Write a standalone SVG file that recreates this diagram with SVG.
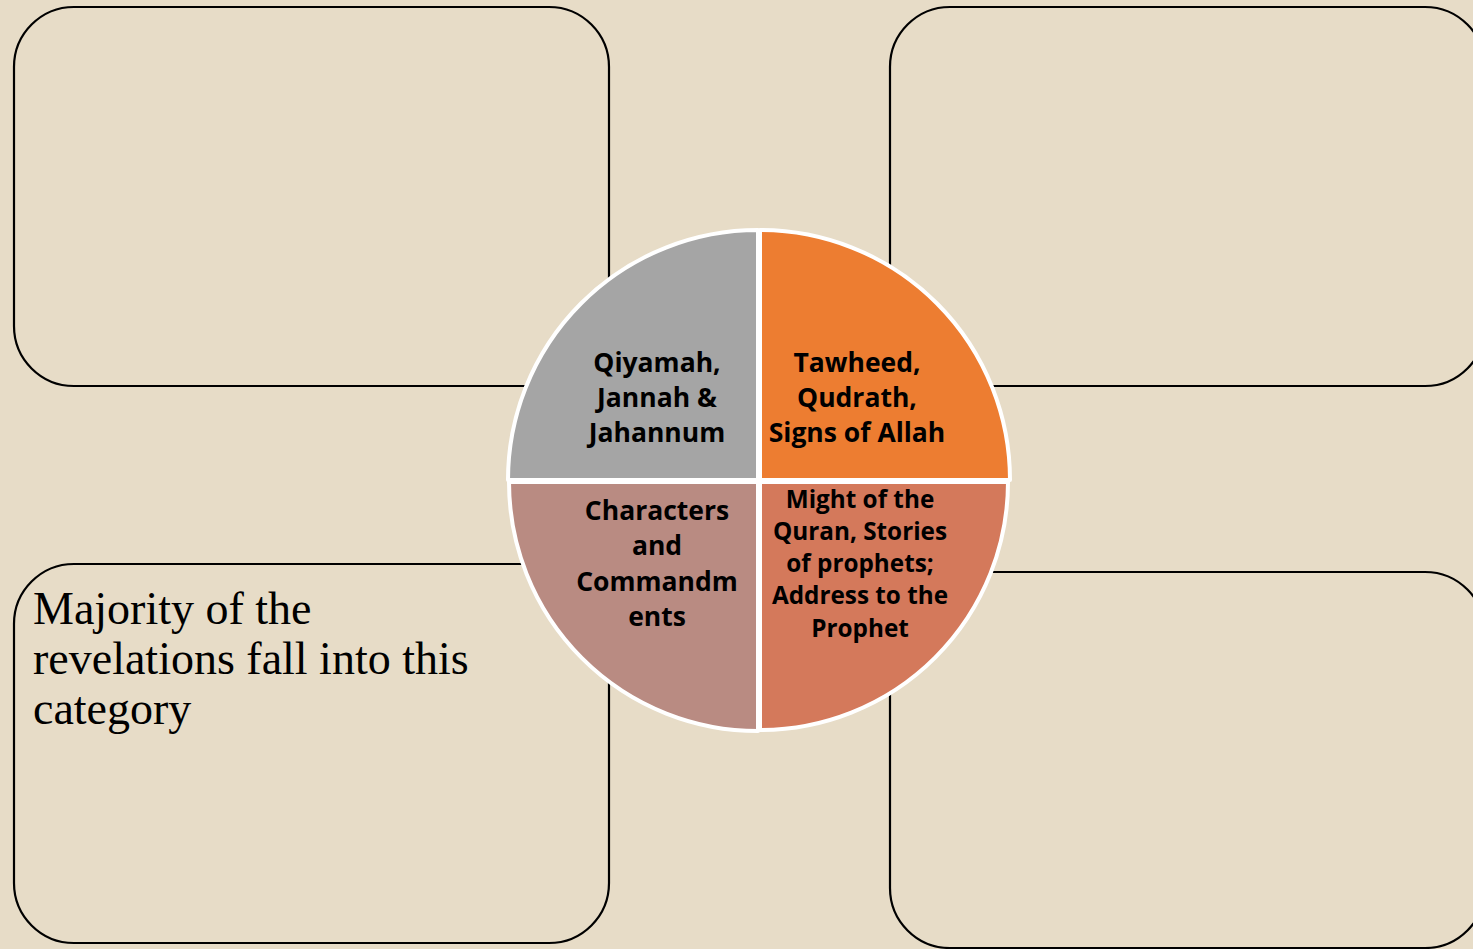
<svg xmlns="http://www.w3.org/2000/svg" width="1473" height="949" viewBox="0 0 1473 949">
<style>
.box{fill:none;stroke:#000;stroke-width:2.2}
.seg{stroke:#fff;stroke-width:4;stroke-linejoin:round}
.lbl{font-family:"Open Sans","Liberation Sans",sans-serif;font-weight:bold;fill:#000;text-anchor:middle}
.note{font-family:"Liberation Serif","DejaVu Serif",serif;fill:#000}
</style>
<rect x="0" y="0" width="1473" height="949" fill="#E7DCC7"/>
<g id="box-top-left"><rect class="box" x="14" y="7" width="595" height="379" rx="60" ry="60"/></g>
<g id="box-top-right"><rect class="box" x="890" y="7" width="595" height="379" rx="60" ry="60"/></g>
<g id="box-bottom-left"><rect class="box" x="14" y="564" width="595" height="379" rx="60" ry="60"/>
<text class="note" font-size="46"><tspan x="33" y="624">Majority of the</tspan><tspan x="33" y="674">revelations fall into this</tspan><tspan x="33" y="724">category</tspan></text></g>
<g id="box-bottom-right"><rect class="box" x="890" y="572" width="595" height="376" rx="60" ry="60"/></g>
<g id="connectors"></g>
<g id="seg-top-left"><path class="seg" fill="#A5A5A5" d="M758,480 L508,480 A250,250 0 0 1 758,230 Z"/>
<text class="lbl" font-size="26.5"><tspan x="657" y="372">Qiyamah,</tspan><tspan x="657" y="407">Jannah &amp;</tspan><tspan x="657" y="442">Jahannum</tspan></text></g>
<g id="seg-top-right"><path class="seg" fill="#ED7D31" d="M760,480 L760,230 A250,250 0 0 1 1010,480 Z"/>
<text class="lbl" font-size="26.5"><tspan x="857" y="372">Tawheed,</tspan><tspan x="857" y="407">Qudrath,</tspan><tspan x="857" y="442">Signs of Allah</tspan></text></g>
<g id="seg-bottom-left"><path class="seg" fill="#B98B82" d="M758,482 L758,731 A249,249 0 0 1 509,482 Z"/>
<text class="lbl" font-size="26.5"><tspan x="657" y="520">Characters</tspan><tspan x="657" y="555">and</tspan><tspan x="657" y="591">Commandm</tspan><tspan x="657" y="626">ents</tspan></text></g>
<g id="seg-bottom-right"><path class="seg" fill="#D4795B" d="M760,482 L1008,482 A248,248 0 0 1 760,730 Z"/>
<text class="lbl" font-size="24.3"><tspan x="860" y="508">Might of the</tspan><tspan x="860" y="540">Quran, Stories</tspan><tspan x="860" y="572">of prophets;</tspan><tspan x="860" y="604">Address to the</tspan><tspan x="860" y="637">Prophet</tspan></text></g>
</svg>
